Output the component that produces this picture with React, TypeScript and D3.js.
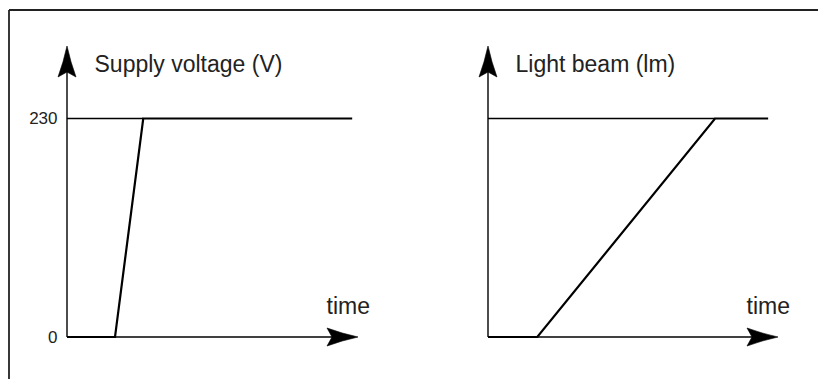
import React from "react";
import * as d3 from "d3";

// time runs 0..10, where 10 is the tip of the time arrow
const voltageTime = [0, 1.65, 2.62, 9.8];
const voltageValue = [0, 0, 230, 230];
const lightTime = [0, 1.7, 7.83, 9.66];
const lightValue = [0, 0, 100, 100];
const voltageTicks = [0, 230];

const W = 818;
const H = 379;
const FONT = "'Liberation Sans', Arial, sans-serif";

type Panel = {
  title: string;
  times: number[];
  values: number[];
  max: number;
  ticks: number[];
  x0: number;
  x1: number;
};

const panels: Panel[] = [
  { title: "Supply voltage (V)", times: voltageTime, values: voltageValue, max: 230, ticks: voltageTicks, x0: 67, x1: 358 },
  { title: "Light beam (lm)", times: lightTime, values: lightValue, max: 100, ticks: [], x0: 488, x1: 778 },
];

// barbed arrow head, tip at the origin pointing right
const arrow = "M0,0 Q-16,-3.5 -31,-9 L-26,0 L-31,9 Q-16,3.5 0,0 Z";

function PanelChart({ p }: { p: Panel }) {
  const x = d3.scaleLinear().domain([0, 10]).range([p.x0, p.x1]);
  const y = d3.scaleLinear().domain([0, p.max]).range([337, 118.5]);
  const yTop = 46;
  const pts = p.times.map((t, i) => [t, p.values[i]] as [number, number]);
  const line = d3
    .line<[number, number]>()
    .x((d) => x(d[0]))
    .y((d) => y(d[1]));
  const riseEnd = pts.find((d) => d[1] === p.max)!;

  return (
    <g>
      {/* y axis */}
      <line x1={x(0)} x2={x(0)} y1={y(0)} y2={yTop + 8} stroke="#000" strokeWidth={1.4} />
      <path d={arrow} transform={`translate(${x(0)},${yTop}) rotate(-90)`} fill="#000" stroke="#000" strokeWidth={0.6} />
      {/* time axis */}
      <line x1={x(0)} x2={x(10) - 8} y1={y(0)} y2={y(0)} stroke="#000" strokeWidth={1.4} />
      <path d={arrow} transform={`translate(${x(10)},${y(0)})`} fill="#000" stroke="#000" strokeWidth={0.6} />
      {/* max level guide */}
      <line x1={x(0)} x2={x(riseEnd[0])} y1={y(p.max)} y2={y(p.max)} stroke="#000" strokeWidth={1.4} />
      {/* curve */}
      <path d={line(pts) || ""} fill="none" stroke="#000" strokeWidth={2.2} strokeLinejoin="miter" />
      {p.ticks.map((t) => (
        <text
          key={t}
          x={x(0) - 9.5}
          y={y(t)}
          textAnchor="end"
          dominantBaseline="central"
          fontSize={17}
          fontFamily={FONT}
          fill="#222"
        >
          {t}
        </text>
      ))}
      <text x={x(0) + 27.5} y={72} fontSize={23} fontFamily={FONT} fill="#222">
        {p.title}
      </text>
      <text x={x(10) + 12} y={314} textAnchor="end" fontSize={23} fontFamily={FONT} fill="#222">
        time
      </text>
    </g>
  );
}

export default function App() {
  return (
    <svg
      width={W}
      height={H}
      style={{ position: "absolute", left: 0, top: 0, background: "#fff", overflow: "hidden" }}
    >
      <line x1={9} x2={W} y1={10} y2={10} stroke="#222" strokeWidth={1.8} />
      <line x1={9} x2={9} y1={10} y2={H} stroke="#222" strokeWidth={1.8} />
      {panels.map((p) => (
        <PanelChart key={p.title} p={p} />
      ))}
    </svg>
  );
}
